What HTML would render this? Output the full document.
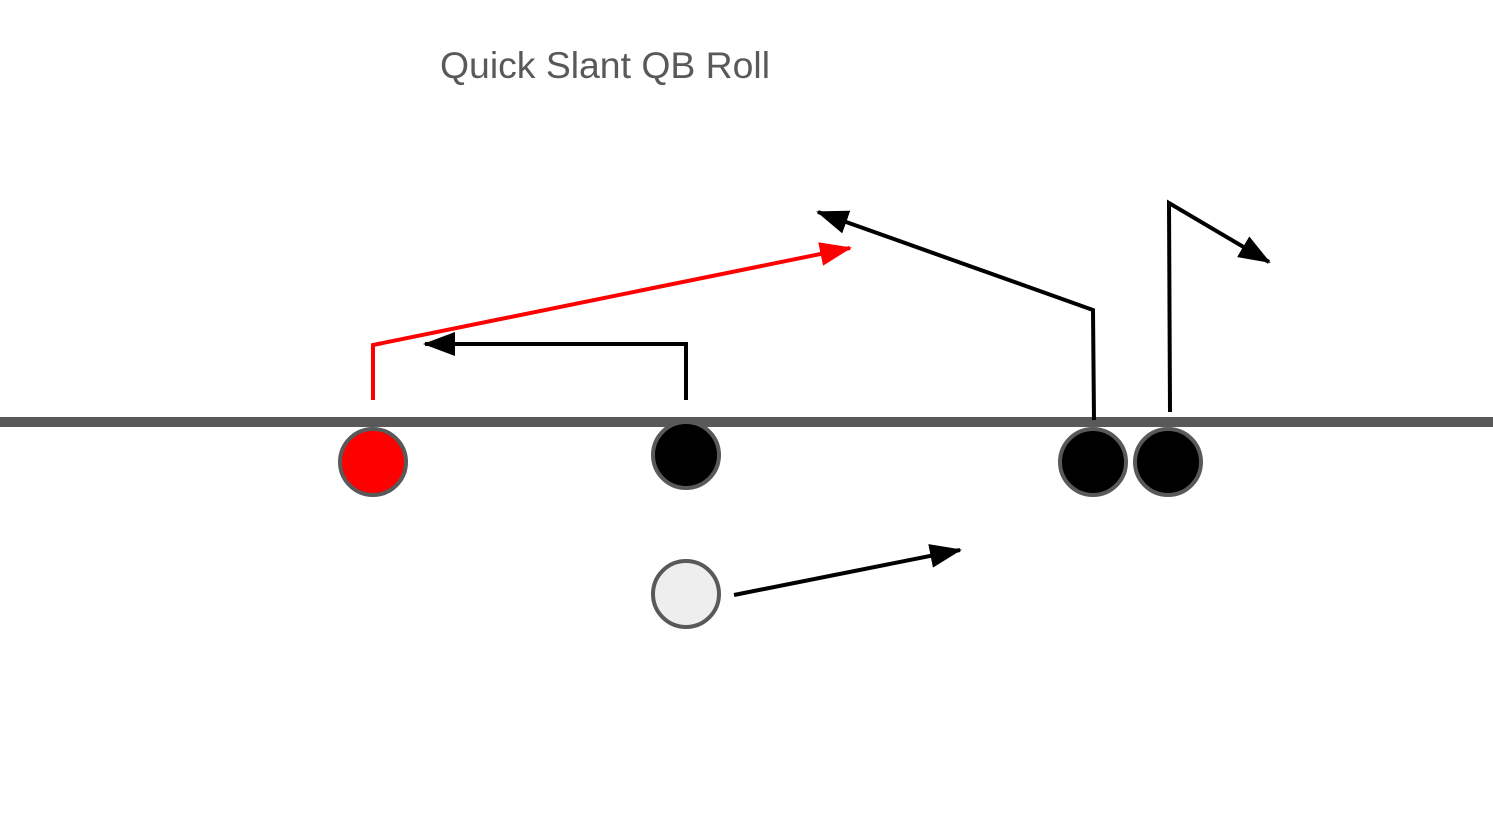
<!DOCTYPE html>
<html><head><meta charset="utf-8"><style>
html,body{margin:0;padding:0;background:#fff;}
svg{display:block;}
</style></head><body>
<svg width="1493" height="840" viewBox="0 0 1493 840" xmlns="http://www.w3.org/2000/svg">
<defs>
<marker id="ab" markerUnits="userSpaceOnUse" markerWidth="32" markerHeight="24" refX="30" refY="12" orient="auto">
<path d="M0,0 L32,12 L0,24 Z" fill="#000"/></marker>
<marker id="ar" markerUnits="userSpaceOnUse" markerWidth="32" markerHeight="24" refX="30" refY="12" orient="auto">
<path d="M0,0 L32,12 L0,24 Z" fill="#f00"/></marker>
</defs>
<text x="440" y="78" font-family="Liberation Sans, sans-serif" font-size="37" textLength="330" lengthAdjust="spacingAndGlyphs" fill="#595959">Quick Slant QB Roll</text>
<line x1="0" y1="422" x2="1493" y2="422" stroke="#595959" stroke-width="10"/>
<polyline points="373,400 373,345 850,248" fill="none" stroke="#f00" stroke-width="4" marker-end="url(#ar)"/>
<polyline points="686,400 686,344 425,344" fill="none" stroke="#000" stroke-width="4" marker-end="url(#ab)"/>
<polyline points="1094,420 1093,310 818,212" fill="none" stroke="#000" stroke-width="4" marker-end="url(#ab)"/>
<polyline points="1170,412 1169,203 1269,262" fill="none" stroke="#000" stroke-width="4" marker-end="url(#ab)"/>
<line x1="734" y1="595" x2="960" y2="550" stroke="#000" stroke-width="4" marker-end="url(#ab)"/>
<circle cx="373" cy="462" r="33" fill="#f00" stroke="#595959" stroke-width="4"/>
<circle cx="686" cy="455" r="33" fill="#000" stroke="#595959" stroke-width="4"/>
<circle cx="1093" cy="462" r="33" fill="#000" stroke="#595959" stroke-width="4"/>
<circle cx="1168" cy="462" r="33" fill="#000" stroke="#595959" stroke-width="4"/>
<circle cx="686" cy="594" r="33" fill="#eeeeee" stroke="#595959" stroke-width="4"/>
</svg>
</body></html>
